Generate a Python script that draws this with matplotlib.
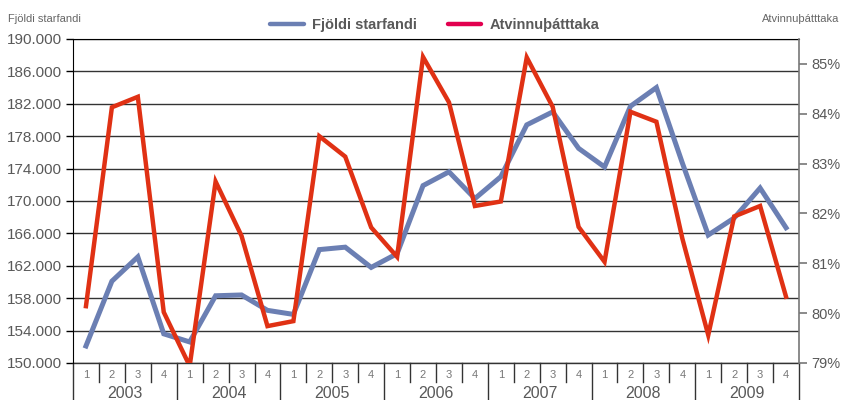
import matplotlib
matplotlib.use("Agg")
import matplotlib.pyplot as plt
from matplotlib.lines import Line2D

plt.rcParams['font.family'] = ['Liberation Sans', 'DejaVu Sans']

# data: quarterly, 2003Q1 - 2009Q4
years = ['2003', '2004', '2005', '2006', '2007', '2008', '2009']
quarters = ['1', '2', '3', '4']
starfandi = [152100, 160100, 163100, 153600, 152600, 158300, 158400, 156500,
             156000, 164000, 164300, 161800, 163500, 171900, 173600, 170300,
             173000, 179400, 181000, 176500, 174200, 181700, 184000, 174700,
             165800, 167900, 171600, 166700]
atvinnuthatttaka = [80.14, 84.13, 84.34, 80.02, 78.94, 82.64, 81.55, 79.74,
                    79.84, 83.55, 83.14, 81.72, 81.13, 85.14, 84.23, 82.15,
                    82.24, 85.13, 84.14, 81.73, 81.03, 84.04, 83.84, 81.5,
                    79.56, 81.94, 82.15, 80.33]
left_ticks = list(range(150000, 190001, 4000))
right_ticks = [79, 80, 81, 82, 83, 84, 85]

blue = '#6b7fb3'
red = '#e03114'
grey = '#595959'

fig = plt.figure(figsize=(8.41, 4.0), dpi=100)
ax = fig.add_axes([73 / 841, 37 / 400, 726 / 841, 324 / 400])
ax2 = ax.twinx()

n = len(starfandi)
x = list(range(n))

ax.plot(x, starfandi, color=blue, lw=3.6, solid_joinstyle='miter', zorder=3)
ax2.plot(x, atvinnuthatttaka, color=red, lw=3.2, solid_joinstyle='miter', zorder=4)

ax.set_xlim(-0.5, n - 0.5)
ax.set_ylim(150000, 190000)
ax2.set_ylim(79, 85.5)

ax.set_yticks(left_ticks)
ax.set_yticklabels([f"{v:,}".replace(',', '.') for v in left_ticks])
ax.grid(axis='y', color='#333333', lw=1)
ax.set_axisbelow(True)
ax.tick_params(axis='y', direction='out', length=5, width=1, color='black',
               labelsize=11, labelcolor=grey, pad=3)

ax2.set_yticks(right_ticks)
ax2.set_yticklabels([f"{v}%" for v in right_ticks])
ax2.tick_params(axis='y', direction='out', length=6, width=1.2, color='#777777',
                labelsize=10.5, labelcolor=grey, pad=3)

# x axis: quarter boxes and years underneath
ax.set_xticks([])
for a in (ax, ax2):
    a.spines['bottom'].set_visible(False)
ax.spines['top'].set_color('black')
ax.spines['left'].set_color('black')
ax2.spines['right'].set_color('#777777')
ax2.spines['right'].set_linewidth(1.2)
ax.spines['right'].set_visible(False)
ax2.spines['left'].set_visible(False)
ax2.spines['top'].set_visible(False)

tr = ax.get_xaxis_transform()
ax.plot([-0.5, n - 0.5], [0, 0], color='#333333', lw=1, transform=tr, clip_on=False)
for i in range(n + 1):
    xb = i - 0.5
    if i % 4 == 0 or i == n:
        ax.plot([xb, xb], [0, -37 / 324], color='#333333', lw=1, transform=tr, clip_on=False)
    else:
        ax.plot([xb, xb], [0, -19 / 324], color='#333333', lw=1, transform=tr, clip_on=False)
for i in range(n):
    ax.text(i, -12 / 324, quarters[i % 4], transform=tr, ha='center', va='center',
            fontsize=8, color='#777777')
for k, yr in enumerate(years):
    ax.text(4 * k + 1.5, -30 / 324, yr, transform=tr, ha='center', va='center',
            fontsize=11.5, color=grey)

# axis titles
fig.text(8 / 841, 1 - 19 / 400, 'Fjöldi starfandi', fontsize=8, color='#666666',
         ha='left', va='center')
fig.text(839 / 841, 1 - 19 / 400, 'Atvinnuþátttaka', fontsize=8, color='#666666',
         ha='right', va='center')

# legend (the legend swatch for the red line is more pinkish in the original)
handles = [Line2D([], [], color=blue, lw=3.2, solid_capstyle='round'),
           Line2D([], [], color='#e2004f', lw=3.2, solid_capstyle='round')]
fig.legend(handles, ['Fjöldi starfandi', 'Atvinnuþátttaka'], loc='center',
           bbox_to_anchor=(435 / 841, 1 - 25 / 400), ncol=2, frameon=False,
           handlelength=2.3, columnspacing=2.1, handletextpad=0.6,
           prop={'weight': 'bold', 'size': 10.5}, labelcolor=grey)

fig.savefig('out.png', dpi=100)
